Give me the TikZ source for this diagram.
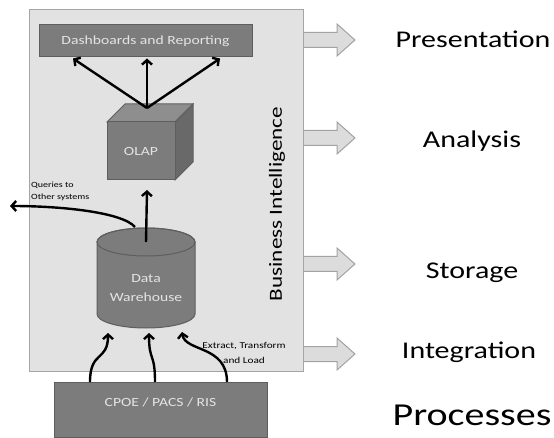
\documentclass[tikz,border=0pt]{standalone}
\usepackage{fontspec}
\setmainfont{Carlito}[FakeStretch=1.25]
\usetikzlibrary{arrows.meta,calc}
\definecolor{bifill}{HTML}{E2E2E2}
\definecolor{biline}{HTML}{A5A5A5}
\definecolor{boxfill}{HTML}{7C7C7C}
\definecolor{boxline}{HTML}{5E5E5E}
\definecolor{boxtext}{HTML}{E4E4E4}
\definecolor{topfill}{HTML}{8E8E8E}
\definecolor{sidefill}{HTML}{696969}
\definecolor{blockfill}{HTML}{DCDCDC}
\definecolor{blockline}{HTML}{A3A3A3}
\begin{document}
\begin{tikzpicture}[x=1pt,y=-1pt,
  flow/.style={line width=2.4pt, -{Straight Barb[length=4.5pt,width=10pt]}},
  darkbox/.style={draw=boxline, fill=boxfill, line width=1pt, inner sep=0pt},
  boxlabel/.style={text=boxtext, font=\fontsize{12.5}{19}\selectfont, align=center, inner sep=0pt},
  lbl/.style={font=\fontsize{24}{28}\selectfont, anchor=base, inner sep=0pt},
  blockarrow/.style={fill=blockfill, draw=blockline, line width=1pt},
  smalltext/.style={font=\fontsize{8}{12}\selectfont, align=left, inner sep=0pt}
]
\useasboundingbox (0,0) rectangle (554,438);
\fill[white] (0,0) rectangle (554,438);

% block arrows
\foreach \yy in {40,138,264,354}{
  \draw[blockarrow] (300,{\yy-7.5}) -- (337,{\yy-7.5}) -- (337,{\yy-16}) -- (355,\yy)
    -- (337,{\yy+16}) -- (337,{\yy+7.5}) -- (300,{\yy+7.5});
}

% Business Intelligence box
\node[draw=biline, fill=bifill, line width=1pt, minimum width=274pt, minimum height=362pt,
  inner sep=0pt, anchor=north west] (bi) at (29,9) {};
\node[rotate=90, font=\fontsize{18.5}{22}\selectfont, inner sep=0pt] (bitext) at (277,204) {Business Intelligence};

% right labels
\node[lbl] (pres) at (473,48) {Presentation};
\node[lbl] (anal) at (472,148) {Analysis};
\node[lbl] (stor) at (472,279) {Storage};
\node[lbl] (integ) at (469,358) {Integration};
\node[lbl, font=\fontsize{32}{36}\selectfont] (proc) at (472,425) {Processes};

% Dashboards
\node[darkbox, minimum width=213pt, minimum height=32pt] (dash) at (145.5,41) {};
\node[boxlabel] (dashtext) at (145.5,41) {Dashboards and Reporting};

% OLAP cube
\fill[topfill, draw=boxline, line width=1pt] (107,122) -- (125,104) -- (193,104) -- (175,122) -- cycle;
\fill[sidefill, draw=boxline, line width=1pt] (175,122) -- (193,104) -- (193,162) -- (175,180) -- cycle;
\node[darkbox, minimum width=68pt, minimum height=58pt] (olap) at (141,151) {};
\node[boxlabel] (olaptext) at (141,151) {OLAP};
\coordinate (olaptop) at (147,108);
\coordinate (olapin) at (147,190);

\draw[flow] (olaptop) -- ($(dash.south)+(-72.5,1)$);
\draw[flow] (olaptop) -- ($(dash.south)+(1.5,1)$);
\draw[flow] (olaptop) -- ($(dash.south)+(74.5,1)$);

% Data warehouse cylinder
\path[draw=boxline, fill=boxfill, line width=1pt] (97,242) -- (97,314)
  arc[start angle=180, end angle=0, x radius=49, y radius=14] -- (195,242)
  arc[start angle=0, end angle=-180, x radius=49, y radius=14] -- cycle;
\draw[boxline, line width=1pt] (146,242) ellipse[x radius=49, y radius=14];
\node[boxlabel] (dw) at (146,288) {Data\\Warehouse};
\coordinate (dwtop) at (146,242);
\coordinate (dwq) at (135,227);

\draw[flow] (dwtop) -- (olapin);

% queries
\coordinate (qend) at (10,206);
\draw[flow] (dwq) .. controls (122,212) and (60,206) .. (qend);
\node[smalltext, anchor=west] (qtext) at (31,191) {Queries to\\Other systems};

% CPOE
\node[darkbox, minimum width=213pt, minimum height=55pt, anchor=north west] (cpoe) at (54,382) {};
\node[boxlabel] (cpoetext) at (160.5,402) {CPOE / PACS / RIS};

\coordinate (e1) at (108,333);
\coordinate (e2) at (149,333);
\coordinate (e3) at (182,332);
\draw[flow] ($(cpoe.north west)+(36,0)$) .. controls (90,350) and (108,362) .. (e1);
\draw[flow] ($(cpoe.north west)+(101,0)$) .. controls (155,352) and (149,362) .. (e2);
\draw[flow] ($(cpoe.north west)+(173,0)$) .. controls (227,345) and (185,352) .. (e3);

\node[font=\fontsize{9}{15}\selectfont, align=center, inner sep=0pt] (etl) at (244,353) {Extract, Transform\\and Load};
\end{tikzpicture}
\end{document}
